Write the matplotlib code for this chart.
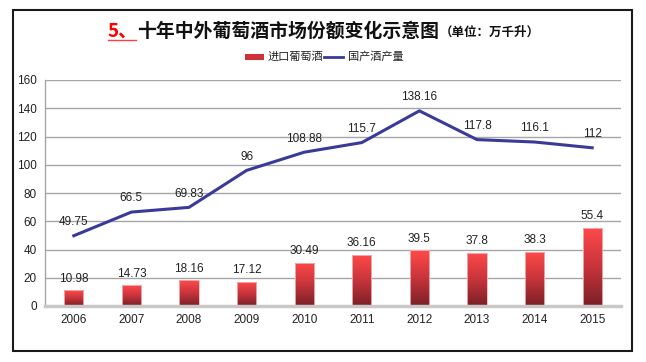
import numpy as np
import matplotlib
matplotlib.use('Agg')
import matplotlib.pyplot as plt
from matplotlib.patches import Rectangle
from matplotlib.lines import Line2D
from matplotlib.colors import LinearSegmentedColormap

plt.rcParams['font.family'] = ['Liberation Sans', 'Noto Sans CJK SC', 'DejaVu Sans']

# data
years = ['2006', '2007', '2008', '2009', '2010', '2011', '2012', '2013', '2014', '2015']
imported = [10.98, 14.73, 18.16, 17.12, 30.49, 36.16, 39.5, 37.8, 38.3, 55.4]
domestic = [49.75, 66.5, 69.83, 96, 108.88, 115.7, 138.16, 117.8, 116.1, 112]
yticks = [0, 20, 40, 60, 80, 100, 120, 140, 160]

W, H = 646, 362
fig = plt.figure(figsize=(W / 100, H / 100), dpi=100)

# outer frame
fig.patches.append(Rectangle((13 / W, 1 - 351 / H), 619 / W, 341 / H, transform=fig.transFigure,
                             fill=False, edgecolor='#1a1a1a', linewidth=1.5))

ax = fig.add_axes([45 / W, 1 - 306 / H, 576 / W, 226 / H])
x = np.arange(len(years))

# gradient bars
grad_cmap = LinearSegmentedColormap.from_list('redgrad', ['#7a2026', '#c8343c', '#ff4a4a'])
grad = np.linspace(0, 1, 256).reshape(-1, 1)
bars = ax.bar(x, imported, width=0.33, color='none', edgecolor='#f3b6b6', linewidth=0.6, zorder=3)
for b in bars:
    x0, w, h = b.get_x(), b.get_width(), b.get_height()
    im = ax.imshow(grad, cmap=grad_cmap, origin='lower', aspect='auto',
                   extent=(x0, x0 + w, 0, h), zorder=2.5)
    im.set_clip_path(b)

ax.plot(x, domestic, color='#3a3a98', linewidth=2.2, zorder=4)

for i in range(len(years)):
    ax.annotate(f'{imported[i]:g}', (x[i], imported[i]), xytext=(0, 4), textcoords='offset points',
                ha='center', va='bottom', fontsize=8.5, color='#222222')
    ax.annotate(f'{domestic[i]:g}', (x[i], domestic[i]), xytext=(0, 5.5), textcoords='offset points',
                ha='center', va='bottom', fontsize=8.5, color='#222222')

ax.set_xlim(-0.5, len(years) - 0.5)
ax.set_ylim(0, 160)
ax.set_yticks(yticks)
ax.set_xticks(x)
ax.set_xticklabels(years)
ax.tick_params(axis='both', length=0, labelsize=8.5, colors='#222222')
ax.tick_params(axis='x', pad=6)
ax.tick_params(axis='y', pad=6)
ax.yaxis.grid(True, color='#a6a6a6', linewidth=1.0, zorder=0)
ax.set_axisbelow(True)
for s in ['top', 'right']:
    ax.spines[s].set_visible(False)
ax.spines['left'].set_color('#a6a6a6')
ax.spines['left'].set_linewidth(1.0)
ax.spines['bottom'].set_color('#c8c8c8')
ax.spines['bottom'].set_linewidth(2.5)

# title
cjk = ['Noto Sans CJK SC', 'DejaVu Sans']
fig.text(108 / W, 1 - 31 / H, '5、', color='#ff0000', fontsize=13.6, fontweight='bold',
         va='center', ha='left', family=cjk)
fig.add_artist(Line2D([108 / W, 136 / W], [1 - 40 / H, 1 - 40 / H], transform=fig.transFigure,
                      color='#ff4040', linewidth=1))
fig.text(137 / W, 1 - 31 / H, '十年中外葡萄酒市场份额变化示意图', color='#111111', fontsize=13.6,
         fontweight='bold', va='center', ha='left', family=cjk)
fig.text(440 / W, 1 - 32 / H, '（单位：万千升）', color='#111111', fontsize=9,
         fontweight='bold', va='center', ha='left', family=cjk)

# legend
fig.patches.append(Rectangle((245 / W, 1 - 60 / H), 19 / W, 6 / H, transform=fig.transFigure,
                             facecolor='#d03038', edgecolor='none'))
fig.text(268 / W, 1 - 57 / H, '进口葡萄酒', fontsize=8, va='center', ha='left', color='#222222',
         family=cjk)
fig.add_artist(Line2D([324 / W, 343 / W], [1 - 57 / H, 1 - 57 / H], transform=fig.transFigure,
                      color='#3a3a98', linewidth=2))
fig.text(348 / W, 1 - 57 / H, '国产酒产量', fontsize=8, va='center', ha='left', color='#222222',
         family=cjk)

fig.savefig('out.png', dpi=100)
